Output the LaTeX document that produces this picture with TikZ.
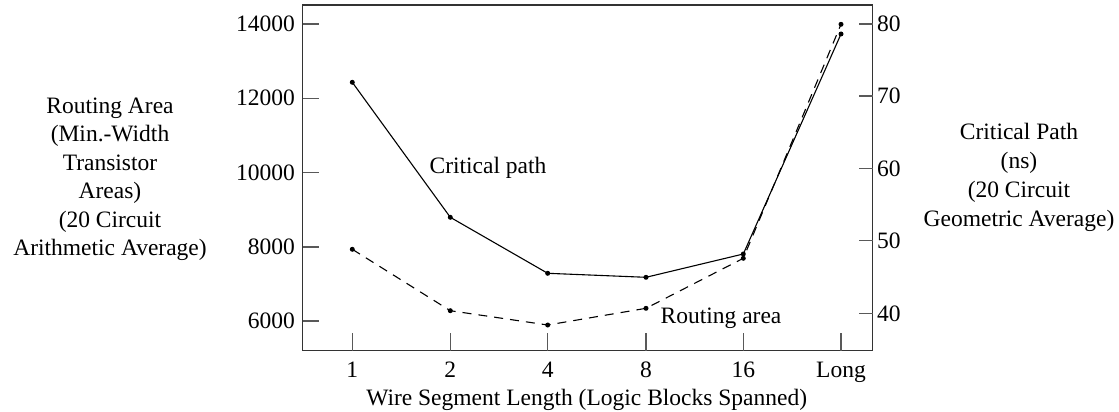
\documentclass[tikz,border=0pt]{standalone}
\usepackage{fontspec}
\setmainfont{Liberation Serif}
\begin{document}
\begin{tikzpicture}[x=1pt,y=-1pt,
  lbl/.style={font=\fontsize{23.5}{28.5}\selectfont, inner sep=0pt},
  dot/.style={circle, fill=black, inner sep=0pt, minimum size=5pt},
  axisline/.style={line width=1.1pt, black!80},
  tickline/.style={line width=1.1pt, black!65},
  cpline/.style={line width=1.1pt},
  raline/.style={line width=1.1pt, dash pattern=on 9pt off 7pt}]
\useasboundingbox (0,0) rectangle (1119,412);
% frame
\coordinate (fTL) at (302.7,5);
\coordinate (fBR) at (872.7,350.7);
\draw[axisline] (fTL) rectangle (fBR);
% left ticks
\foreach \v/\y in {14000/24,12000/98.3,10000/172.7,8000/247,6000/321}{
  \coordinate (la) at (302.7,\y);
  \coordinate (lb) at (319.3,\y);
  \draw[tickline] (la) -- (lb);
  \node[lbl, anchor=east] (ll\v) at (295,\y) {\v};
}
% right ticks
\foreach \v/\y in {80/24,70/96,60/168.7,50/240.7,40/313.3}{
  \coordinate (ra) at (859.3,\y);
  \coordinate (rb) at (872.7,\y);
  \draw[tickline] (ra) -- (rb);
  \node[lbl, anchor=west] (rl\v) at (877,\y) {\v};
}
% x ticks
\foreach \t/\x [count=\i] in {1/352.3,2/450.3,4/547.7,8/646,16/743.3,Long/841}{
  \coordinate (xa) at (\x,350.7);
  \coordinate (xb) at (\x,333.3);
  \draw[tickline] (xa) -- (xb);
  \node[lbl, anchor=base] (xl\i) at (\x,377.5) {\t};
}
% axis titles
\node[lbl, anchor=base] (xtitle) at (586.7,405) {Wire Segment Length (Logic Blocks Spanned)};
\node[lbl, align=center] (ytitleL) at (110,179.5) {Routing Area\\(Min.-Width\\Transistor\\Areas)\\(20 Circuit\\Arithmetic Average)};
\node[lbl, align=center, font=\fontsize{23.5}{29}\selectfont] (ytitleR) at (1019,177) {Critical Path\\(ns)\\(20 Circuit\\Geometric Average)};
% data points
\node[dot] (c1) at (352.3,82.3) {};
\node[dot] (c2) at (450.3,217.3) {};
\node[dot] (c3) at (547.7,273.3) {};
\node[dot] (c4) at (646,277.3) {};
\node[dot] (c5) at (743.3,254) {};
\node[dot] (c6) at (841,34) {};
\node[dot] (r1) at (352.3,249.3) {};
\node[dot] (r2) at (450.3,310.7) {};
\node[dot] (r3) at (547.7,325) {};
\node[dot] (r4) at (646,308.3) {};
\node[dot] (r5) at (743.3,258.3) {};
\node[dot] (r6) at (841,24.3) {};
\draw[cpline] (c1.center) -- (c2.center) -- (c3.center) -- (c4.center) -- (c5.center) -- (c6.center);
\draw[raline] (r1.center) -- (r2.center) -- (r3.center) -- (r4.center) -- (r5.center) -- (r6.center);
% curve labels
\node[lbl, anchor=base] (cplabel) at (488,173) {Critical path};
\node[lbl, anchor=base] (ralabel) at (721,323) {Routing area};
\end{tikzpicture}
\end{document}
